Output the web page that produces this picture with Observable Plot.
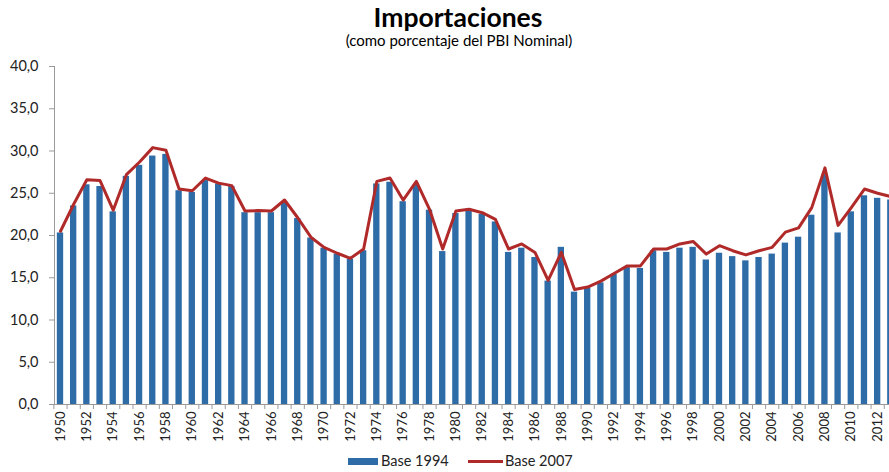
<!DOCTYPE html>
<html>
<head>
<meta charset="utf-8">
<script src="https://cdn.jsdelivr.net/npm/d3@7"></script>
<script src="https://cdn.jsdelivr.net/npm/@observablehq/plot@0.6"></script>
<style>
  body { margin: 0; overflow: hidden; background: #fff; font-family: Lato, "Liberation Sans", sans-serif; }
  #wrap { position: relative; width: 889px; height: 472px; overflow: hidden; background: #fff; }
  #title { position: absolute; top: 1px; left: 458px; transform: translateX(-50%); font-weight: bold; font-size: 26.5px; white-space: nowrap; color: #000; }
  #subtitle { position: absolute; top: 31px; left: 459px; transform: translateX(-50%); font-size: 15px; white-space: nowrap; color: #000; }
  #chart { position: absolute; top: 50px; left: 0; }
  .leg { position: absolute; font-size: 14.5px; color: #222; white-space: nowrap; }
  .sw { position: absolute; }
</style>
</head>
<body>
<div id="wrap">
  <div id="title">Importaciones</div>
  <div id="subtitle">(como porcentaje del PBI Nominal)</div>
  <div id="chart"></div>
  <div class="sw" style="left:348px;top:458px;width:30px;height:7px;background:#2E6CA8"></div>
  <div class="leg" style="left:381px;top:452px">Base 1994</div>
  <div class="sw" style="left:468px;top:460px;width:35px;height:3px;background:#B02A2A"></div>
  <div class="leg" style="left:505px;top:452px">Base 2007</div>
</div>
<script>
const years = [1950,1951,1952,1953,1954,1955,1956,1957,1958,1959,
  1960,1961,1962,1963,1964,1965,1966,1967,1968,1969,
  1970,1971,1972,1973,1974,1975,1976,1977,1978,1979,
  1980,1981,1982,1983,1984,1985,1986,1987,1988,1989,
  1990,1991,1992,1993,1994,1995,1996,1997,1998,1999,
  2000,2001,2002,2003,2004,2005,2006,2007,2008,2009,
  2010,2011,2012,2013];

const base1994 = [20.3,23.5,26.0,25.8,22.8,27.0,28.3,29.4,29.6,25.3,
  25.1,26.5,26.1,25.8,22.7,22.7,22.7,24.0,22.0,19.7,
  18.5,17.8,17.2,18.2,26.1,26.3,24.0,26.0,23.0,18.1,
  22.6,23.1,22.5,21.6,18.0,18.5,17.4,14.6,18.6,13.3,
  13.8,14.4,15.4,16.2,16.1,18.2,18.0,18.5,18.6,17.1,
  17.9,17.5,17.0,17.4,17.8,19.1,19.8,22.4,27.2,20.3,
  22.8,24.7,24.4,24.2];

const base2007 = [20.5,23.7,26.6,26.5,23.0,27.2,28.7,30.4,30.1,25.5,
  25.3,26.8,26.2,25.9,22.9,22.95,22.9,24.2,22.1,19.8,
  18.6,17.9,17.3,18.4,26.4,26.8,24.2,26.4,23.1,18.4,
  22.9,23.1,22.7,21.9,18.4,19.0,18.0,14.7,18.0,13.6,
  13.9,14.6,15.5,16.4,16.4,18.4,18.4,19.0,19.3,17.8,
  18.8,18.2,17.7,18.2,18.6,20.4,20.9,23.3,28.0,21.2,
  23.3,25.5,25.0,24.6];

const tickYears = [1950,1952,1954,1956,1958,1960,1962,1964,1966,1968,
  1970,1972,1974,1976,1978,1980,1982,1984,1986,1988,
  1990,1992,1994,1996,1998,2000,2002,2004,2006,2008,2010,2012];

const yTicks = [0,5,10,15,20,25,30,35,40];

const data = years.map((year, i) => ({year, b94: base1994[i], b07: base2007[i]}));

const step = 13.18;
const x0 = 53.4;

const chart = Plot.plot({
  width: 889,
  height: 410,
  marginTop: 16,
  marginBottom: 56,
  marginLeft: 54,
  marginRight: 0,
  style: {fontFamily: "Lato, 'Liberation Sans', sans-serif", fontSize: "13px", color: "#222", background: "transparent"},
  x: {type: "band", domain: years, range: [x0, x0 + years.length * step], paddingInner: 0.52, paddingOuter: 0.26, round: false, axis: null},
  y: {domain: [0, 40], axis: null},
  marks: [
    Plot.barY(data, {x: "year", y: "b94", fill: "#2E6CA8"}),
    Plot.line(data, {x: "year", y: "b07", stroke: "#B02A2A", strokeWidth: 3, strokeLinejoin: "round"}),
    Plot.ruleY([0], {stroke: "#9a9a9a"}),
    Plot.frame({anchor: "left", stroke: "#9a9a9a"}),
    Plot.axisY({ticks: yTicks, tickSize: 5, tickPadding: 11, stroke: "#9a9a9a", fill: "#222", fontSize: 14.5, label: null,
      tickFormat: d => d.toFixed(1).replace(".", ",")}),
    Plot.axisX({ticks: years, tickSize: 5, text: null, stroke: "#9a9a9a", dx: -step / 2, label: null}),
    Plot.axisX({ticks: tickYears, tickSize: 0, tickPadding: 7, tickRotate: -90, fill: "#222", fontSize: 13, label: null,
      tickFormat: d => String(d)})
  ]
});
document.getElementById("chart").appendChild(chart);
</script>
</body>
</html>
